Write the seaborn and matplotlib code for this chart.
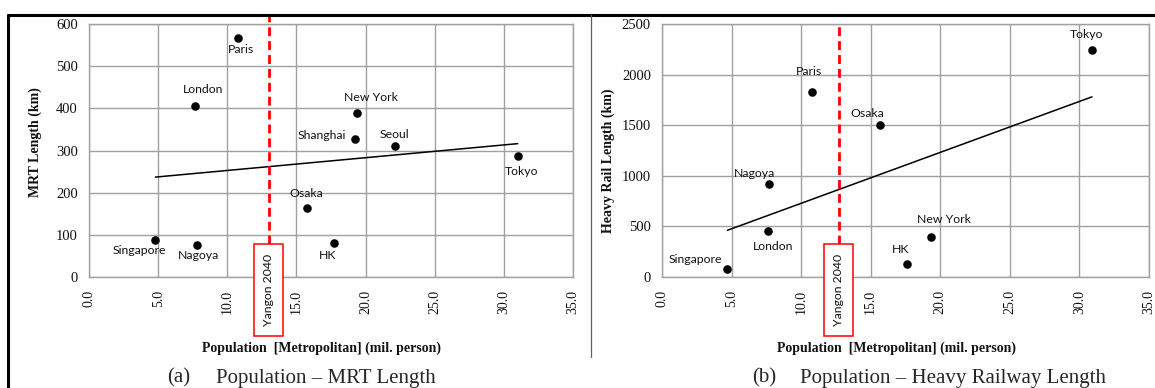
import matplotlib
matplotlib.use("Agg")
import matplotlib.pyplot as plt
import matplotlib.transforms as mtransforms
from matplotlib.lines import Line2D
from matplotlib.patches import Rectangle
import pandas as pd
import seaborn as sns

# ---------------- data ----------------
mrt_cities = ["Singapore", "Nagoya", "London", "Paris", "Osaka", "HK",
              "Shanghai", "New York", "Seoul", "Tokyo"]
mrt_pop = [4.8, 7.8, 7.7, 10.8, 15.8, 17.7, 19.2, 19.4, 22.1, 31.0]
mrt_len = [88, 77, 405, 567, 164, 81, 328, 390, 311, 286]

rail_cities = ["Singapore", "London", "Nagoya", "Paris", "Osaka", "HK",
               "New York", "Tokyo"]
rail_pop = [4.7, 7.6, 7.7, 10.8, 15.7, 17.6, 19.3, 30.9]
rail_len = [82, 455, 920, 1830, 1500, 125, 400, 2240]

yangon_pop_mrt = 13.0
yangon_pop_rail = 12.7
yangon_label = "Yangon 2040"

x_ticks = [0, 5, 10, 15, 20, 25, 30, 35]
mrt_y_ticks = [0, 100, 200, 300, 400, 500, 600]
rail_y_ticks = [0, 500, 1000, 1500, 2000, 2500]

x_title = "Population  [Metropolitan] (mil. person)"
mrt_y_title = "MRT Length (km)"
rail_y_title = "Heavy Rail Length (km)"
caption_a = ("(a)", "Population \u2013 MRT Length")
caption_b = ("(b)", "Population \u2013 Heavy Railway Length")

# label offsets in pixels (dx, dy up-positive, ha)
mrt_offsets = {
    "Paris": (3, -12, "center"), "London": (8, 17, "center"),
    "New York": (14, 15, "center"), "Shanghai": (-9, 3, "right"),
    "Seoul": (0, 11, "center"), "Tokyo": (4, -15, "center"),
    "Osaka": (-1, 14, "center"), "Singapore": (-16, -11, "center"),
    "Nagoya": (2, -11, "center"), "HK": (-6, -13, "center"),
}
rail_offsets = {
    "Tokyo": (-5, 16, "center"), "Paris": (-3, 20, "center"),
    "Osaka": (-13, 12, "center"), "Nagoya": (-15, 10, "center"),
    "London": (5, -16, "center"), "Singapore": (-32, 9, "center"),
    "HK": (-6, 15, "center"), "New York": (13, 17, "center"),
}

# ---------------- style ----------------
sns.set_theme(style="white")
plt.rcParams["font.family"] = ["Liberation Serif", "DejaVu Serif"]
SANS = ["Lato", "DejaVu Sans"]
GRID = "#a0a0a0"

W, H = 1155, 388
fig = plt.figure(figsize=(W / 100, H / 100), dpi=100)


def px_box(x0, x1, y0, y1):
    return [x0 / W, 1 - y1 / H, (x1 - x0) / W, (y1 - y0) / H]


ax1 = fig.add_axes(px_box(89, 573, 24, 277))
ax2 = fig.add_axes(px_box(662, 1149, 24, 277))

PX = 0.72  # points per pixel at 100 dpi


def draw_panel(ax, cities, pops, lens, yticks, ytitle, yangon_x, offsets,
               ylab_y, red_top):
    df = pd.DataFrame({"city": cities, "pop": pops, "len": lens})
    sns.regplot(data=df, x="pop", y="len", ax=ax, scatter=False, ci=None,
                truncate=True, line_kws=dict(color="black", lw=1.1, zorder=3))
    sns.scatterplot(data=df, x="pop", y="len", ax=ax, color="black", s=38,
                    linewidth=0, zorder=4)
    ax.set_xlim(x_ticks[0], x_ticks[-1])
    ax.set_ylim(yticks[0], yticks[-1])
    ax.set_xticks(x_ticks)
    ax.set_xticklabels([f"{t:.1f}" for t in x_ticks])
    ax.set_yticks(yticks)
    ax.set_yticklabels([str(t) for t in yticks])
    ax.tick_params(axis="x", length=0, labelsize=10, pad=9, labelrotation=90,
                   labelcolor="#111111")
    ax.tick_params(axis="y", length=0, labelsize=10.5, pad=8,
                   labelcolor="#111111")
    ax.grid(True, color=GRID, lw=1.0)
    ax.set_axisbelow(True)
    for s in ax.spines.values():
        s.set_color(GRID)
        s.set_linewidth(1.0)
    ax.set_xlabel(x_title, fontsize=10, fontweight="bold", color="#111111")
    ax.set_ylabel(ytitle, fontsize=10, fontweight="bold", color="#111111")
    ax.xaxis.set_label_coords(0.481, -0.281)
    ax.xaxis.label.set_va("center")
    ax.yaxis.set_label_coords(-0.111, ylab_y)
    ax.yaxis.label.set_va("center")

    for c, x, y in zip(cities, pops, lens):
        dx, dy, ha = offsets[c]
        ax.annotate(c, (x, y), xytext=(dx * PX, dy * PX),
                    textcoords="offset points", ha=ha, va="center",
                    fontsize=8.8, family=SANS, color="#111111", zorder=5)

    trans = mtransforms.blended_transform_factory(ax.transData, ax.transAxes)
    box_top, box_bot = 0.1304, -0.2332
    ax.plot([yangon_x, yangon_x], [box_top, red_top], transform=trans,
            color="#ff0000", lw=2, ls=(0, (3.2, 1.8)), clip_on=False,
            zorder=6)
    ax.add_patch(Rectangle((yangon_x - 1.045, box_bot), 2.09,
                           box_top - box_bot, transform=trans,
                           facecolor="white", edgecolor="#ff0000", lw=1.1,
                           clip_on=False, zorder=6))
    ax.text(yangon_x, (box_top + box_bot) / 2, yangon_label, transform=trans,
            rotation=90, ha="center", va="center", fontsize=8.8,
            family=SANS, color="#111111", zorder=7)


draw_panel(ax1, mrt_cities, mrt_pop, mrt_len, mrt_y_ticks, mrt_y_title,
           yangon_pop_mrt, mrt_offsets, 0.534, 1.0356)
draw_panel(ax2, rail_cities, rail_pop, rail_len, rail_y_ticks, rail_y_title,
           yangon_pop_rail, rail_offsets, 0.46, 1.0)

# frame lines
top_y = 1 - 15 / H
fig.add_artist(Line2D([8 / W, 1.0], [top_y, top_y], transform=fig.transFigure,
                      color="black", lw=2.2))
fig.add_artist(Line2D([8 / W, 8 / W], [0, top_y], transform=fig.transFigure,
                      color="black", lw=2.2))
fig.add_artist(Line2D([591 / W, 591 / W], [1 - 357 / H, top_y],
                      transform=fig.transFigure, color="#606060", lw=0.9))

# captions
cap_y = 1 - 378 / H
fig.text(167 / W, cap_y, caption_a[0], ha="left", va="center", fontsize=15)
fig.text(216 / W, cap_y, caption_a[1], ha="left", va="center", fontsize=15)
fig.text(752 / W, cap_y, caption_b[0], ha="left", va="center", fontsize=15)
fig.text(800 / W, cap_y, caption_b[1], ha="left", va="center", fontsize=15)

fig.savefig("out.png", dpi=100, facecolor="white")
